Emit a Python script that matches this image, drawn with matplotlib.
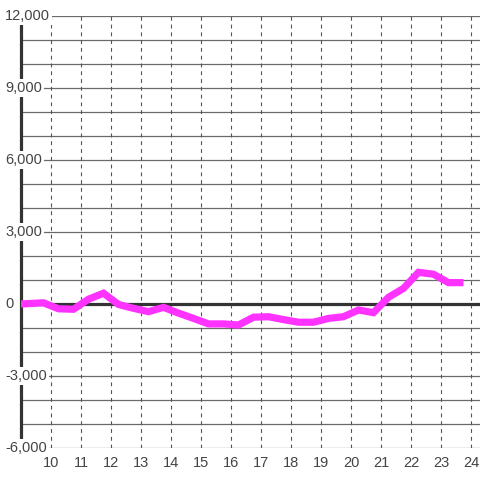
import matplotlib.pyplot as plt
import matplotlib.transforms as mtransforms

plt.rcParams['font.family'] = ['Liberation Sans', 'DejaVu Sans']

# hour of day and value
hours = [9.0, 9.75, 10.25, 10.75, 11.25, 11.75, 12.25, 12.75, 13.25, 13.75,
         14.25, 14.75, 15.25, 15.75, 16.25, 16.75, 17.25, 17.75, 18.25, 18.75,
         19.25, 19.75, 20.25, 20.75, 21.25, 21.75, 22.25, 22.75, 23.25, 23.75]
values = [0, 50, -200, -220, 200, 450, -20, -180, -320, -140,
          -380, -600, -830, -830, -875, -550, -530, -650, -760, -760,
          -600, -530, -250, -360, 280, 650, 1320, 1240, 890, 890]

x_ticks = list(range(10, 25))
y_grid = list(range(-6000, 12001, 1000))
y_labels = [-6000, -3000, 0, 3000, 6000, 9000, 12000]

fig = plt.figure(figsize=(4.8, 4.8), dpi=100)
ax = fig.add_axes([21 / 480, 32 / 480, 459 / 480, 432 / 480])
ax.set_xlim(9, 24.3)
ax.set_ylim(-6000, 12000)

for s in ax.spines.values():
    s.set_visible(False)

# horizontal grid
for v in y_grid:
    ax.axhline(v, color='#6a6a6a', lw=0.9, zorder=1)
# vertical dashed grid
for h in x_ticks:
    ax.axvline(h, color='#555555', lw=0.8, ls=(0, (3.5, 3.5)), zorder=1)

# zero line and left axis
ax.axhline(0, color='#333333', lw=2.3, zorder=2)
ax.axvline(9, color='#333333', lw=2.3, zorder=2, clip_on=False)

ax.plot(hours, values, color='#ff33ff', lw=5.2, solid_joinstyle='miter',
        solid_capstyle='butt', zorder=3)

ax.set_yticks([])
ax.set_xticks(x_ticks)
ax.set_xticklabels([str(h) for h in x_ticks], fontsize=10.5, color='#444444')
ax.tick_params(axis='x', length=0, pad=6)

trans = mtransforms.blended_transform_factory(fig.transFigure, ax.transData)
for v in y_labels:
    ax.text(5 / 480, v, f'{v:,}', transform=trans, ha='left', va='center',
            fontsize=10.5, color='#444444', zorder=5, clip_on=False,
            bbox=dict(facecolor='white', edgecolor='none', pad=1.5))

fig.savefig('out.png', dpi=100, facecolor='white')
